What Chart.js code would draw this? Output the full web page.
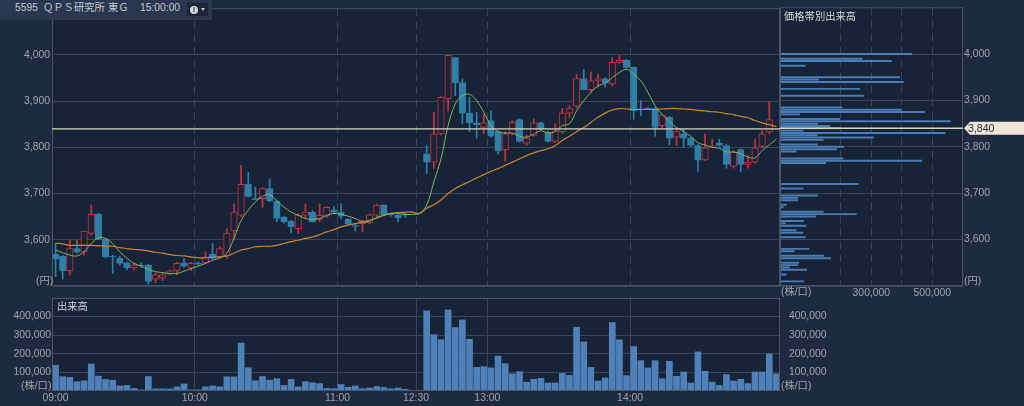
<!DOCTYPE html>
<html><head><meta charset="utf-8">
<script src="https://cdn.jsdelivr.net/npm/chart.js@4/dist/chart.umd.min.js"></script>
<style>
html,body{margin:0;padding:0;background:#1c2b40;width:1024px;height:406px;overflow:hidden}
canvas{position:absolute;left:0;top:0}
.t{position:absolute;font:10.3px "Liberation Sans","Noto Sans CJK JP",sans-serif;color:#a0a4a9;white-space:nowrap;line-height:12px;z-index:5}
#hdr{position:absolute;left:0;top:0;width:212px;height:20px;background:#2a384f;z-index:4}
#info{position:absolute;left:187px;top:3px;width:21px;height:13px;background:#1d2636;z-index:5}
#dot{position:absolute;left:3px;top:3px;width:8px;height:8px;border-radius:4px;background:#d5d8dc;color:#1d2636;font:bold 7px/8px "Liberation Sans";text-align:center}
#tri{position:absolute;left:14px;top:5px;width:0;height:0;border-left:2.5px solid transparent;border-right:2.5px solid transparent;border-top:3px solid #c5c9cf}
</style></head><body>
<canvas id="main" width="1024" height="406"></canvas>
<canvas id="prof" width="1024" height="406"></canvas>
<canvas id="vol" width="1024" height="406"></canvas>
<div id="hdr"></div>
<div id="info"><div id="dot">i</div><div id="tri"></div></div>
<div class="t" style="left:15px;top:2px;color:#c4c9d0">5595</div>
<div class="t" style="left:43px;top:2px;color:#c4c9d0">ＱＰＳ研究所</div>
<div class="t" style="left:108px;top:2px;color:#c4c9d0">東Ｇ</div>
<div class="t" style="left:140px;top:2px;color:#c4c9d0">15:00:00</div>
<div class="t" style="left:36px;top:275px">(円)</div>
<div class="t" style="left:964px;top:275px">(円)</div>
<div class="t" style="left:781px;top:286px">(株/口)</div>
<div class="t" style="left:21px;top:380px">(株/口)</div>
<div class="t" style="left:781px;top:380px">(株/口)</div>
<div class="t" style="left:784px;top:11px;color:#d5d8dc">価格帯別出来高</div>
<div class="t" style="left:57px;top:301px;color:#d5d8dc">出来高</div>
<script>
const opens=[3569,3565,3533,3581,3574,3614,3655,3601,3565,3560,
3550,3539,3545,3545,3515,3517,3526,3533,3550,3539,
3549,3550,3569,3563,3565,3619,3653,3720,3689,3689,
3711,3684,3649,3640,3624,3653,3660,3644,3651,3665,
3660,3644,3631,3635,3637,3653,3675,3655,3653,3656,
null,null,3786,3768,3829,3905,3994,3940,3874,3853,
3843,3858,3834,3795,3829,3860,3809,3826,3853,3833,
3813,3834,3874,3889,3949,3925,3944,3949,3937,3984,
3989,3973,3882,3885,3884,3847,3865,3822,3829,3820,
3804,3773,3802,3809,3804,3759,3795,3763,3768,3802,
3833,null];
const closes=[3558,3533,3581,3573,3619,3655,3601,3563,3563,3549,
3539,3545,3544,3510,3524,3524,3533,3549,3543,3549,
3547,3563,3560,3581,3614,3660,3720,3694,3687,3711,
3684,3646,3639,3628,3653,3660,3639,3653,3670,3660,
3651,3634,3629,3640,3654,3675,3653,3654,3648,3653,
null,null,3768,3829,3908,3999,3940,3874,3853,3849,
3853,3824,3793,3829,3854,3813,3820,3853,3840,3813,
3836,3874,3884,3949,3925,3944,3948,3939,3984,3989,
3973,3879,3881,3884,3843,3870,3820,3834,3820,3804,
3772,3799,3804,3804,3763,3790,3763,3768,3799,3829,
3860,null];
const highs=[3592,3566,3599,3599,3619,3675,3658,3603,3567,3565,
3552,3549,3550,3547,3528,3528,3535,3551,3560,3551,
3553,3574,3592,3586,3624,3678,3761,3746,3714,3713,
3732,3686,3651,3642,3656,3678,3663,3678,3672,3672,
3678,3646,3635,3642,3656,3677,3676,3657,3655,3658,
null,null,3805,3876,3910,3999,3995,3948,3908,3876,
3872,3879,3836,3834,3858,3862,3827,3861,3855,3835,
3851,3884,3890,3958,3969,3963,3958,3951,3994,3999,
3990,3974,3901,3886,3886,3872,3867,3841,3840,3822,
3806,3829,3818,3818,3806,3793,3797,3782,3818,3836,
3899,null];
const lows=[3520,3515,3524,3571,3567,3610,3600,3561,3527,3545,
3535,3534,3540,3504,3507,3512,3524,3524,3541,3533,
3545,3548,3558,3561,3560,3603,3650,3692,3686,3670,
3682,3639,3636,3615,3614,3648,3638,3639,3648,3656,
3645,3632,3619,3617,3635,3650,3652,3651,3639,3648,
null,null,3743,3754,3827,3879,3912,3851,3834,3820,
3829,3822,3786,3770,3827,3811,3804,3824,3838,3811,
3811,3830,3865,3885,3924,3919,3930,3930,3933,3982,
3972,3861,3869,3883,3824,3841,3806,3804,3800,3802,
3748,3771,3800,3802,3755,3755,3748,3755,3766,3800,
3829,null];
const fastMA=[3578,3572,3567,3565,3574,3592,3604,3603,3592,3574,
3560,3549,3543,3536,3531,3529,3527,3527,3532,3538,
3543,3549,3556,3560,3571,3603,3642,3664,3682,3694,
3698,3684,3671,3660,3653,3646,3644,3646,3653,3657,
3655,3651,3646,3640,3642,3648,3653,3657,3657,3655,
3655,3657,3675,3725,3775,3847,3894,3912,3915,3901,
3876,3847,3834,3831,3831,3824,3822,3829,3836,3831,
3834,3847,3851,3879,3901,3919,3933,3939,3951,3962,
3969,3958,3944,3919,3890,3871,3856,3843,3834,3824,
3810,3805,3800,3798,3790,3790,3786,3779,3777,3793,
3805,3818];
const slowMA=[3593,3591,3588,3588,3588,3588,3587,3586,3586,3583,
3581,3579,3578,3576,3573,3571,3568,3566,3565,3563,
3561,3561,3562,3563,3565,3571,3578,3581,3585,3586,
3586,3588,3592,3596,3599,3603,3606,3611,3617,3622,
3628,3632,3635,3638,3641,3647,3653,3657,3659,3660,
3660,3657,3668,3676,3686,3700,3711,3719,3726,3734,
3741,3748,3754,3761,3768,3775,3782,3788,3793,3797,
3804,3815,3824,3834,3843,3854,3865,3874,3881,3884,
3883,3882,3882,3882,3882,3883,3884,3884,3883,3882,
3880,3879,3877,3876,3873,3871,3867,3864,3858,3853,
3849,3845];
const volumes=[138000,77000,73000,50000,55000,145000,80000,62000,58000,27000,
30000,14000,6000,78000,11000,11000,11000,22000,38000,6000,
6000,22000,27000,22000,76000,76000,258000,125000,55000,78000,
58000,66000,30000,62000,22000,50000,44000,40000,14000,12000,
35000,20000,27000,12000,16000,24000,19000,12000,16000,9000,
null,null,431000,303000,275000,436000,341000,382000,278000,127000,
131000,124000,188000,147000,92000,104000,47000,63000,68000,43000,
43000,95000,84000,343000,264000,127000,54000,70000,368000,275000,
83000,239000,163000,124000,163000,66000,160000,79000,102000,43000,
210000,106000,48000,30000,88000,54000,63000,40000,102000,102000,
199000,92000];
const profilePrices=[4000,3990,3985,3975,3950,3945,3940,3925,3910,3885,3880,3875,3870,3860,3855,3850,3845,3840,3835,3830,3825,3820,3815,3805,3800,3795,3790,3775,3770,3765,3720,3710,3695,3690,3685,3675,3670,3660,3655,3650,3640,3635,3630,3620,3615,3605,3580,3575,3565,3560,3550,3545,3540,3535,3525,3510];
const profileVolumes=[433000,270000,366000,83000,393000,127000,405000,262000,274000,204000,399000,475000,64000,196000,559000,124000,164000,195000,76000,542000,122000,307000,142000,122000,209000,186000,53000,207000,466000,150000,256000,76000,124000,58000,58000,21000,11000,142000,251000,117000,77000,18000,86000,53000,75000,83000,95000,47000,143000,166000,62000,58000,31000,88000,20000,78000];
const lastPrice=3840;
const priceTicks=[3500,3600,3700,3800,3900,4000];
const volumeTicks=[100000,200000,300000,400000];
const profileTicks=[200000,300000,400000,500000];
const profileLabelled=[300000,500000];
const timeSlots=[0.5,20,40,51,61,81];
const timeLabels=['09:00','10:00','11:00','12:30','13:00','14:00'];

const PAGE_FONT='"Liberation Sans","Noto Sans CJK JP",sans-serif';
Chart.defaults.font.family=PAGE_FONT;
Chart.defaults.font.size=10.4;
Chart.defaults.color='#a0a4a9';
Chart.defaults.animation=false;
const PANEL='#172437',GRID='#3a4658',EDGE='#4a5568',UP='#c9333f',DOWN='#2f7fa8';
const num=v=>v.toLocaleString('en-US');
const setTicks=(list)=>(s)=>{s.ticks=list.map(v=>({value:v}))};
const wide=w=>(s)=>{s.width=w};
const tall=h=>(s)=>{s.height=h};
const commonPlugins={legend:{display:false},tooltip:{enabled:false}};
const panel={id:'panel',
 beforeDraw(c){const a=c.chartArea,x=c.ctx;x.save();x.fillStyle=PANEL;x.fillRect(a.left,a.top,a.right-a.left,a.bottom-a.top);x.restore()},
 afterDatasetsDraw(c){const a=c.chartArea,x=c.ctx;x.save();x.strokeStyle=EDGE;x.lineWidth=1;
  x.strokeRect(a.left+.5,a.top+.5,a.right-a.left-1,a.bottom-a.top-1);x.restore()}};
const priceLine={id:'priceLine',afterDatasetsDraw(c){const a=c.chartArea,x=c.ctx,y=c.scales.y.getPixelForValue(lastPrice);
 x.save();x.strokeStyle='#d9d5c3';x.lineWidth=1.4;x.beginPath();x.moveTo(a.left,y);x.lineTo(a.right,y);x.stroke();x.restore()}};
const pill={id:'pill',afterDraw(c){const a=c.chartArea,x=c.ctx,y=c.scales.y.getPixelForValue(lastPrice);
 x.save();x.fillStyle='#efe5d8';x.beginPath();x.moveTo(a.right+1,y);x.lineTo(a.right+7,y-6.5);x.lineTo(1024,y-6.5);x.lineTo(1024,y+6.5);x.lineTo(a.right+7,y+6.5);x.closePath();x.fill();
 x.fillStyle='#222a36';x.font='10.6px '+PAGE_FONT;x.textAlign='left';x.textBaseline='middle';x.fillText(num(lastPrice),a.right+5,y+.5);x.restore()}};

const idx=opens.map((v,i)=>i).filter(i=>opens[i]!==null);
const isUp=i=>closes[i]>=opens[i];
const wickData=idx.map(i=>({x:i+.5,y:[lows[i],highs[i]]}));
const bodyData=idx.map(i=>({x:i+.5,y:[opens[i],closes[i]]}));
const wickCols=idx.map(i=>isUp(i)?UP:DOWN);
const bodyFill=idx.map(i=>isUp(i)?PANEL:DOWN);

new Chart(document.getElementById('main'),{
 type:'bar',
 data:{datasets:[
  {data:wickData,backgroundColor:wickCols,barThickness:1,grouped:false,order:5,borderWidth:0},
  {data:bodyData,backgroundColor:bodyFill,borderColor:wickCols,borderWidth:1,borderSkipped:false,barThickness:6.5,grouped:false,order:4},
  {type:'line',data:slowMA.map((v,i)=>({x:i+.5,y:v})),borderColor:'#cf8433',borderWidth:1.2,pointRadius:0,tension:.35,order:2},
  {type:'line',data:fastMA.map((v,i)=>({x:i+.5,y:v})),borderColor:'#7fb65c',borderWidth:1,pointRadius:0,tension:.35,order:1}
 ]},
 options:{responsive:false,devicePixelRatio:1,animation:false,
  layout:{padding:{top:7,right:244,left:0,bottom:0}},
  plugins:commonPlugins,
  scales:{
   x:{type:'linear',offset:false,min:0,max:102,afterBuildTicks:setTicks(timeSlots),afterFit:tall(120),
      ticks:{display:false},
      grid:{offset:false,color:c=>c.index===0?'transparent':GRID,drawTicks:false,lineWidth:1},
      border:{display:false,dash:[8,5]}},
   y:{type:'linear',position:'left',min:3500,max:4101,afterBuildTicks:setTicks(priceTicks),afterFit:wide(52),
      ticks:{padding:2,callback:v=>v===3500?'':num(v)},
      grid:{color:GRID,drawTicks:false},border:{display:false}}
  }},
 plugins:[panel,priceLine]
});

new Chart(document.getElementById('prof'),{
 type:'bar',
 data:{datasets:[{data:profilePrices.map((p,i)=>({x:profileVolumes[i],y:p})),indexAxis:'y',backgroundColor:'#4a7cb5',barThickness:1.3,borderWidth:0,grouped:false}]},
 options:{responsive:false,devicePixelRatio:1,animation:false,indexAxis:'y',
  layout:{padding:{top:7,left:780,right:0,bottom:0}},
  plugins:commonPlugins,
  scales:{
   x:{type:'linear',min:0,max:601000,afterBuildTicks:setTicks(profileTicks),afterFit:tall(120),
      ticks:{padding:1,maxRotation:0,callback:v=>profileLabelled.includes(v)?num(v):''},
      grid:{color:GRID,drawTicks:false},border:{display:false,dash:[8,5]}},
   y:{type:'linear',offset:false,position:'right',min:3500,max:4101,afterBuildTicks:setTicks(priceTicks),afterFit:wide(61),
      ticks:{padding:1,callback:v=>v===3500?'':num(v)},
      grid:{offset:false,color:GRID,drawTicks:false},border:{display:false}}
  }},
 plugins:[panel,priceLine,pill]
});

new Chart(document.getElementById('vol'),{
 type:'bar',
 data:{datasets:[{data:volumes.map((v,i)=>({x:i+.5,y:v})).filter(d=>d.y!==null),backgroundColor:'#5080b8',barThickness:6,borderWidth:0,grouped:false}]},
 options:{responsive:false,devicePixelRatio:1,animation:false,
  layout:{padding:{top:298,right:0,left:0,bottom:0}},
  plugins:commonPlugins,
  scales:{
   x:{type:'linear',offset:false,min:0,max:102,afterBuildTicks:setTicks(timeSlots),afterFit:tall(15),
      ticks:{padding:1,maxRotation:0,callback:(v,i)=>timeLabels[i]},
      grid:{offset:false,color:c=>c.index===0?'transparent':GRID,drawTicks:false},border:{display:false}},
   y:{type:'linear',position:'left',min:0,max:500000,afterBuildTicks:setTicks(volumeTicks),afterFit:wide(52),
      ticks:{padding:1,callback:num},
      grid:{color:GRID,drawTicks:false},border:{display:false}},
   yR:{type:'linear',axis:'y',position:'right',min:0,max:500000,afterBuildTicks:setTicks(volumeTicks),afterFit:wide(244),
      ticks:{padding:1,callback:num},
      grid:{display:false},border:{display:false}}
  }},
 plugins:[panel]
});
</script>
</body></html>
